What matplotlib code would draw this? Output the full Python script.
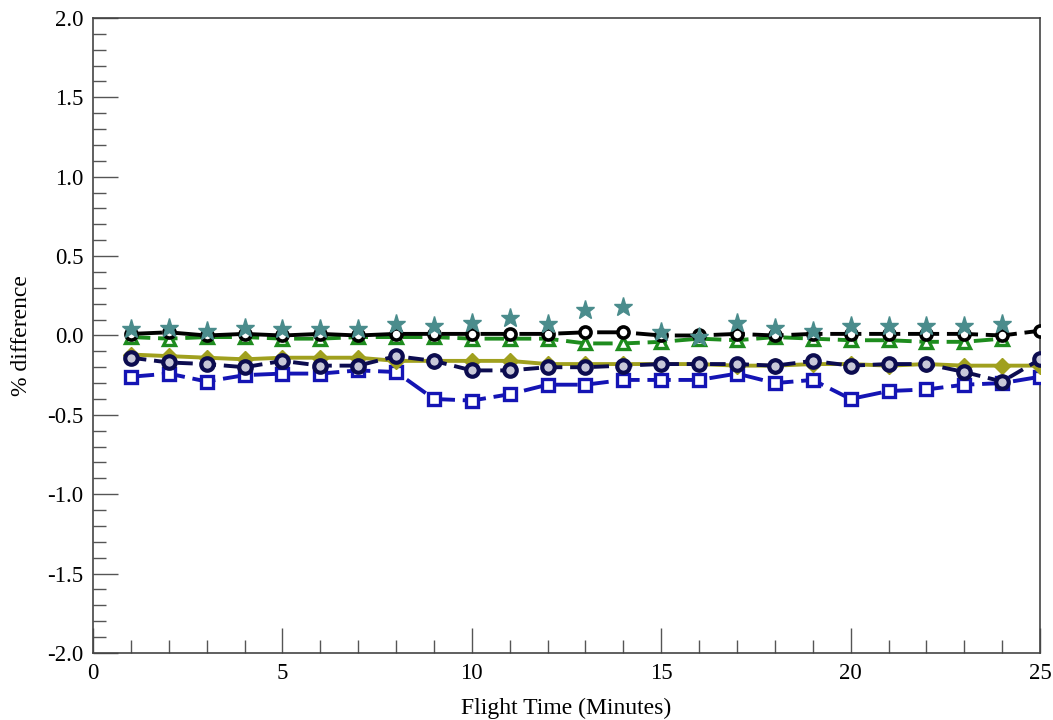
import matplotlib
matplotlib.use("Agg")
import matplotlib.pyplot as plt
from matplotlib.ticker import MultipleLocator

x_all = list(range(1, 26))
x_star = list(range(1, 25))
x_green = list(range(1, 25))

black_vals = [0.01, 0.02, 0.0, 0.01, 0.0, 0.01, 0.0, 0.01, 0.01, 0.01, 0.01, 0.01, 0.02,
              0.02, 0.0, 0.0, 0.01, 0.0, 0.01, 0.01, 0.01, 0.01, 0.01, 0.0, 0.03]
green_vals = [-0.01, -0.02, -0.01, -0.01, -0.02, -0.02, -0.01, -0.01, -0.01, -0.02, -0.02, -0.02,
              -0.05, -0.05, -0.04, -0.02, -0.03, -0.01, -0.02, -0.03, -0.03, -0.04, -0.04, -0.02]
star_vals = [0.04, 0.045, 0.03, 0.05, 0.04, 0.04, 0.04, 0.07, 0.06, 0.08, 0.11, 0.07,
             0.16, 0.18, 0.02, -0.01, 0.08, 0.05, 0.03, 0.06, 0.06, 0.06, 0.06, 0.07]
navy_vals = [-0.14, -0.17, -0.18, -0.2, -0.16, -0.19, -0.19, -0.13, -0.16, -0.22, -0.22, -0.2,
             -0.2, -0.19, -0.18, -0.18, -0.18, -0.19, -0.16, -0.19, -0.18, -0.18, -0.23, -0.29, -0.15]
olive_vals = [-0.12, -0.13, -0.14, -0.15, -0.14, -0.14, -0.14, -0.16, -0.16, -0.16, -0.16, -0.18,
              -0.18, -0.18, -0.18, -0.18, -0.19, -0.19, -0.18, -0.18, -0.19, -0.18, -0.19, -0.19, -0.19]
blue_vals = [-0.26, -0.24, -0.29, -0.25, -0.24, -0.24, -0.22, -0.23, -0.4, -0.41, -0.37, -0.31,
             -0.31, -0.28, -0.28, -0.28, -0.24, -0.3, -0.28, -0.4, -0.35, -0.34, -0.31, -0.3, -0.26]

x_ticks = [0, 5, 10, 15, 20, 25]
y_ticks = [-2.0, -1.5, -1.0, -0.5, 0.0, 0.5, 1.0, 1.5, 2.0]

plt.rcParams['font.family'] = ['Liberation Serif', 'DejaVu Serif']

fig = plt.figure(figsize=(10.53, 7.2), dpi=100)
ax = fig.add_axes([0.0883, 0.0931, 0.8994, 0.8819])

lw = 2.8
ms = 9
ax.plot(x_all, blue_vals, color='#1414b4', lw=lw, ls=(0, (6, 2)), marker='s', ms=ms,
        mfc='white', mec='#1414b4', mew=2.4, zorder=3)
ax.plot(x_all, olive_vals, color='#a0a01e', lw=lw, ls='-', marker='D', ms=8,
        mfc='#a0a01e', mec='#a0a01e', zorder=3)
ax.plot(x_all, navy_vals, color='#0c0c50', lw=lw, ls=(0, (4, 2)), marker='o', ms=ms,
        mfc='#c8c8d8', mec='#0c0c50', mew=3.0, zorder=4)
ax.plot(x_green, green_vals, color='#1e8c1e', lw=lw, ls=(0, (5, 2)), marker='^', ms=ms,
        mfc='white', mec='#1e8c1e', mew=2.4, zorder=5)
ax.plot(x_all, black_vals, color='black', lw=lw, ls=(0, (8, 2)), marker='o', ms=8,
        mfc='white', mec='black', mew=2.6, zorder=6)
ax.plot(x_star, star_vals, color='#4a8c8c', lw=0, marker='*', ms=14,
        mfc='#4a8c8c', mec='#4a8c8c', zorder=7)

ax.set_xlim(0, 25)
ax.set_ylim(-2.0, 2.0)
ax.set_xticks(x_ticks)
ax.set_yticks(y_ticks)
ax.set_xticklabels([str(v) for v in x_ticks])
ax.set_yticklabels([f"{v:.1f}" for v in y_ticks])
ax.xaxis.set_minor_locator(MultipleLocator(1))
ax.yaxis.set_minor_locator(MultipleLocator(0.1))

ax.tick_params(which='major', direction='in', length=18, width=1, color='#555555',
               labelsize=16.5, pad=7, top=False, right=False)
ax.tick_params(which='minor', direction='in', length=9.5, width=1, color='#555555',
               top=False, right=False)
for s in ax.spines.values():
    s.set_color('#444444')
    s.set_linewidth(1.2)

ax.set_xlabel('Flight Time (Minutes)', fontsize=17, labelpad=10)
ax.set_ylabel('% difference', fontsize=17, labelpad=11)

fig.savefig('out.png', dpi=100)
